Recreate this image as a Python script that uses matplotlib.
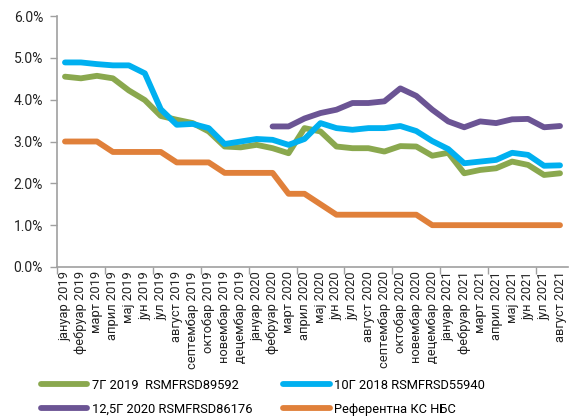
import matplotlib
matplotlib.use("Agg")
import matplotlib.pyplot as plt
import numpy as np

months = ["јануар", "фебруар", "март", "април", "мај", "јун", "јул", "август",
          "септембар", "октобар", "новембар", "децембар"]
labels = [f"{m} {y}" for y in (2019, 2020, 2021) for m in months][:32]

green = [4.55, 4.51, 4.57, 4.51, 4.22, 3.99, 3.61, 3.52, 3.44, 3.24, 2.88, 2.86,
         2.92, 2.84, 2.72, 3.32, 3.24, 2.88, 2.84, 2.84, 2.76, 2.89, 2.88, 2.66,
         2.73, 2.24, 2.32, 2.36, 2.52, 2.44, 2.20, 2.24]
blue = [4.89, 4.89, 4.85, 4.82, 4.82, 4.63, 3.77, 3.40, 3.42, 3.32, 2.94, 3.00,
        3.06, 3.04, 2.92, 3.06, 3.44, 3.32, 3.28, 3.32, 3.32, 3.37, 3.25, 3.01,
        2.82, 2.48, 2.52, 2.56, 2.73, 2.68, 2.42, 2.43]
purple = [np.nan] * 13 + [3.36, 3.36, 3.55, 3.68, 3.76, 3.92, 3.92, 3.96, 4.27,
                          4.09, 3.76, 3.48, 3.34, 3.48, 3.44, 3.53, 3.54, 3.34, 3.37]
orange = [3.0, 3.0, 3.0, 2.75, 2.75, 2.75, 2.75, 2.5, 2.5, 2.5, 2.25, 2.25,
          2.25, 2.25, 1.75, 1.75, 1.5, 1.25, 1.25, 1.25, 1.25, 1.25, 1.25, 1.0,
          1.0, 1.0, 1.0, 1.0, 1.0, 1.0, 1.0, 1.0]

series_names = ["7Г 2019  RSMFRSD89592", "10Г 2018 RSMFRSD55940",
                "12,5Г 2020 RSMFRSD86176", "Референтна КС НБС"]
colors = ["#8AA84E", "#00B0F0", "#6B5494", "#E0803A"]

plt.rcParams['font.family'] = ['Roboto', 'DejaVu Sans']

fig = plt.figure(figsize=(5.72, 4.17), dpi=100)
ax = fig.add_axes([57/572, 1 - 267/417, (568 - 57)/572, (267 - 16)/417])

x = np.arange(len(labels))
lw = 4.2
handles = {}
for name, vals, c in zip(series_names, [green, blue, purple, orange], colors):
    h, = ax.plot(x, vals, color=c, lw=lw, solid_capstyle='round',
                 solid_joinstyle='round', label=name)
    handles[name] = h

ax.set_xlim(-0.5, 31.5)
ax.set_ylim(0, 6)
ax.set_yticks(np.arange(0, 7, 1))
ax.set_yticklabels([f"{v:.1f}%" for v in np.arange(0, 7, 1)], fontsize=10, color="#222222")
ax.set_xticks(x)
ax.set_xticklabels(labels, rotation=90, fontsize=9.3, color="#222222")
ax.tick_params(axis='x', which='major', length=0, pad=3)
ax.set_xticks(np.arange(-0.5, 32, 3), minor=True)
ax.tick_params(axis='x', which='minor', length=5, color="#A0A0A0", width=1)
ax.tick_params(axis='y', length=5, color="#A0A0A0", width=1, pad=5)

for s in ['top', 'right']:
    ax.spines[s].set_visible(False)
for s in ['left', 'bottom']:
    ax.spines[s].set_color("#A0A0A0")
    ax.spines[s].set_linewidth(1.2)

order = [series_names[0], series_names[2], series_names[1], series_names[3]]
fig.legend([handles[n] for n in order], order, ncol=2, frameon=False,
           loc='upper left', bbox_to_anchor=(29/572, 1 - 367/417),
           fontsize=9.3, handlelength=3.6, handletextpad=0.35,
           columnspacing=2.4, labelspacing=0.85)

fig.savefig("out.png", dpi=100)
